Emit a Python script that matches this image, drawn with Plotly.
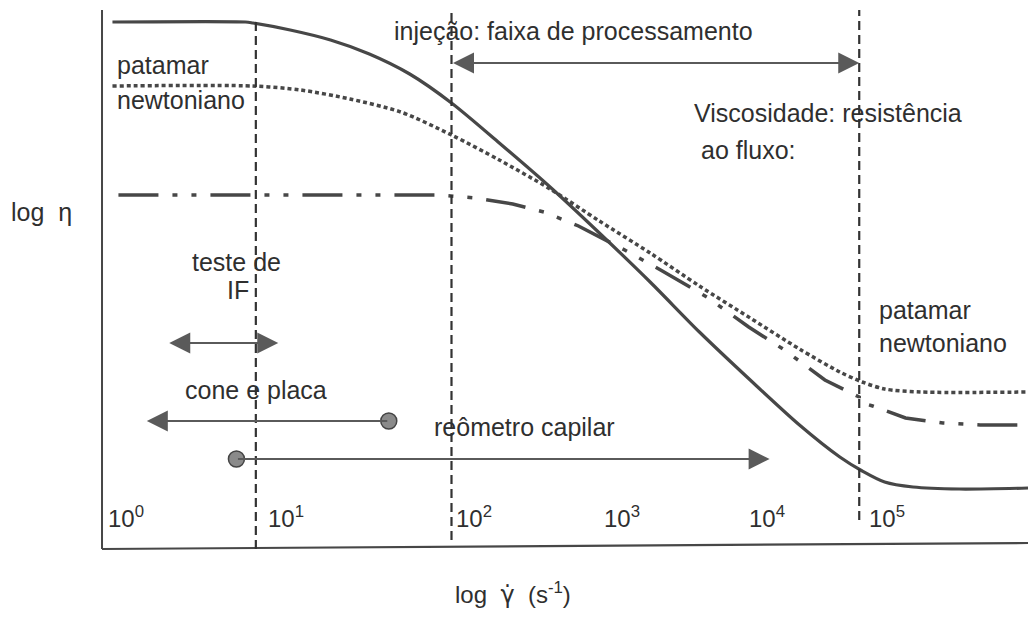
import plotly.graph_objects as go

# Horizontal position in decades of shear rate (schematic), vertical in log(eta) units
x_newt = [0.07, 0.96, 1.01, 1.26, 1.53, 1.79, 2.06, 2.34, 2.66, 3.00, 3.33, 3.67,
          4.00, 4.34, 4.67, 4.94, 5.09, 5.24, 5.43, 5.74, 6.20]
y_newt = [5.27, 5.27, 5.26, 5.19, 5.09, 4.95, 4.75, 4.46, 4.06, 3.62, 3.16, 2.67,
          2.17, 1.69, 1.24, 0.92, 0.78, 0.67, 0.62, 0.60, 0.61]

x_dot = [0.07, 1.01, 1.33, 1.66, 2.00, 2.34, 2.66, 3.00, 3.33, 3.67, 4.00, 4.34,
         4.67, 4.94, 5.09, 5.24, 5.48, 6.20]
y_dot = [4.63, 4.63, 4.59, 4.50, 4.37, 4.14, 3.89, 3.60, 3.28, 2.96, 2.63, 2.31,
         2.00, 1.77, 1.67, 1.60, 1.57, 1.57]

x_dd = [0.11, 2.26, 2.50, 2.75, 2.96, 3.19, 3.50, 3.74, 4.05, 4.33, 4.57, 4.84,
        5.07, 5.07, 5.16, 5.28, 5.38, 5.63, 5.88, 6.20]
y_dd = [3.54, 3.54, 3.51, 3.45, 3.37, 3.23, 2.99, 2.79, 2.52, 2.22, 1.99, 1.69,
        1.52, 1.47, 1.43, 1.36, 1.31, 1.26, 1.24, 1.24]

# Vertical guide lines: position, top, bottom
guide_x = [1.03, 2.34, 5.07]
guide_top = [5.29, 5.39, 5.39]
guide_bottom = [0.00, 0.09, 0.29]

# Decade tick labels and where they sit along the axis
tick_text = ["10<sup>0</sup>", "10<sup>1</sup>", "10<sup>2</sup>",
             "10<sup>3</sup>", "10<sup>4</sup>", "10<sup>5</sup>"]
tick_x = [0.03, 1.10, 2.36, 3.35, 4.32, 5.12]
tick_y = 0.32

# Measurement ranges: (start, end, level)
inj_range = (2.34, 5.07, 4.86)
if_range = (0.44, 1.18, 2.06)
cone_range = (1.92, 0.30, 1.28)     # from circle to arrow tip
capilar_range = (0.90, 4.47, 0.90)  # from circle to arrow tip

INK = "#474747"
TXT = "#2f2f2f"
FONT = "Liberation Sans, Arial, sans-serif"

fig = go.Figure()

fig.add_trace(go.Scatter(x=x_newt, y=y_newt, mode="lines",
                         line=dict(color=INK, width=3.2, shape="spline", smoothing=0.8),
                         hoverinfo="skip"))
fig.add_trace(go.Scatter(x=x_dot, y=y_dot, mode="lines",
                         line=dict(color=INK, width=3.5, dash="4px,3px",
                                   shape="spline", smoothing=0.8),
                         hoverinfo="skip"))
fig.add_trace(go.Scatter(x=x_dd, y=y_dd, mode="lines",
                         line=dict(color=INK, width=3.5,
                                   dash="40px,14px,5px,14px,5px,14px"),
                         hoverinfo="skip"))

# Axis frame
fig.add_shape(type="line", x0=0, y0=0, x1=0, y1=5.39, xref="x", yref="y",
              line=dict(color=INK, width=2))
fig.add_shape(type="line", x0=0, y0=0, x1=6.2, y1=0.06, xref="x", yref="y",
              line=dict(color=INK, width=2.2))

for gx, gt, gb in zip(guide_x, guide_top, guide_bottom):
    fig.add_shape(type="line", x0=gx, x1=gx, y0=gb, y1=gt, xref="x", yref="y",
                  line=dict(color="#333333", width=2.2, dash="9px,5px"))

# Range arrows
def arrow(x_tip, x_tail, y, both=False):
    fig.add_annotation(x=x_tip, y=y, ax=x_tail, ay=y, xref="x", yref="y",
                       axref="x", ayref="y", text="", showarrow=True,
                       arrowhead=2, startarrowhead=2, arrowsize=2.1,
                       startarrowsize=2.1, arrowwidth=2,
                       arrowside="end+start" if both else "end",
                       arrowcolor="#5a5a5a")

arrow(inj_range[1], inj_range[0], inj_range[2], both=True)
arrow(if_range[1], if_range[0], if_range[2], both=True)
arrow(cone_range[1], cone_range[0], cone_range[2])
arrow(capilar_range[1], capilar_range[0], capilar_range[2])

fig.add_trace(go.Scatter(x=[cone_range[0], capilar_range[0]],
                         y=[cone_range[2], capilar_range[2]], mode="markers",
                         marker=dict(size=16, color="#8a8a8a",
                                     line=dict(color="#444444", width=1.5)),
                         hoverinfo="skip"))

def label(text, x, y, anchor="left", size=25):
    fig.add_annotation(x=x, y=y, xref="x", yref="y", text=text, showarrow=False,
                       xanchor=anchor, yanchor="middle",
                       font=dict(family=FONT, size=size, color=TXT))

label("patamar", 0.09, 4.84)
label("newtoniano", 0.09, 4.49)
label("injeção: faixa de processamento", 1.94, 5.18)
label("Viscosidade: resistência", 3.95, 4.36)
label("ao fluxo:", 4.00, 3.99)
label("log  η", -0.62, 3.37)
label("teste de", 0.90, 2.87, anchor="center")
label("IF", 0.91, 2.59, anchor="center")
label("cone e placa", 0.54, 1.59)
label("reômetro capilar", 2.21, 1.22)
label("patamar", 5.19, 2.39)
label("newtoniano", 5.19, 2.06)
for t, tx in zip(tick_text, tick_x):
    label(t, tx, tick_y, size=24)
label('log  <span style="font-family:DejaVu Sans">γ̇</span>  (s<sup>-1</sup>)',
      2.75, -0.44, anchor="center", size=24)

fig.update_layout(
    width=1028, height=617,
    margin=dict(l=0, r=0, t=0, b=0),
    paper_bgcolor="white", plot_bgcolor="white",
    showlegend=False,
    xaxis=dict(visible=False, range=[-0.683, 6.2]),
    yaxis=dict(visible=False, range=[-0.68, 5.49]),
)

fig.write_html("out.html")
